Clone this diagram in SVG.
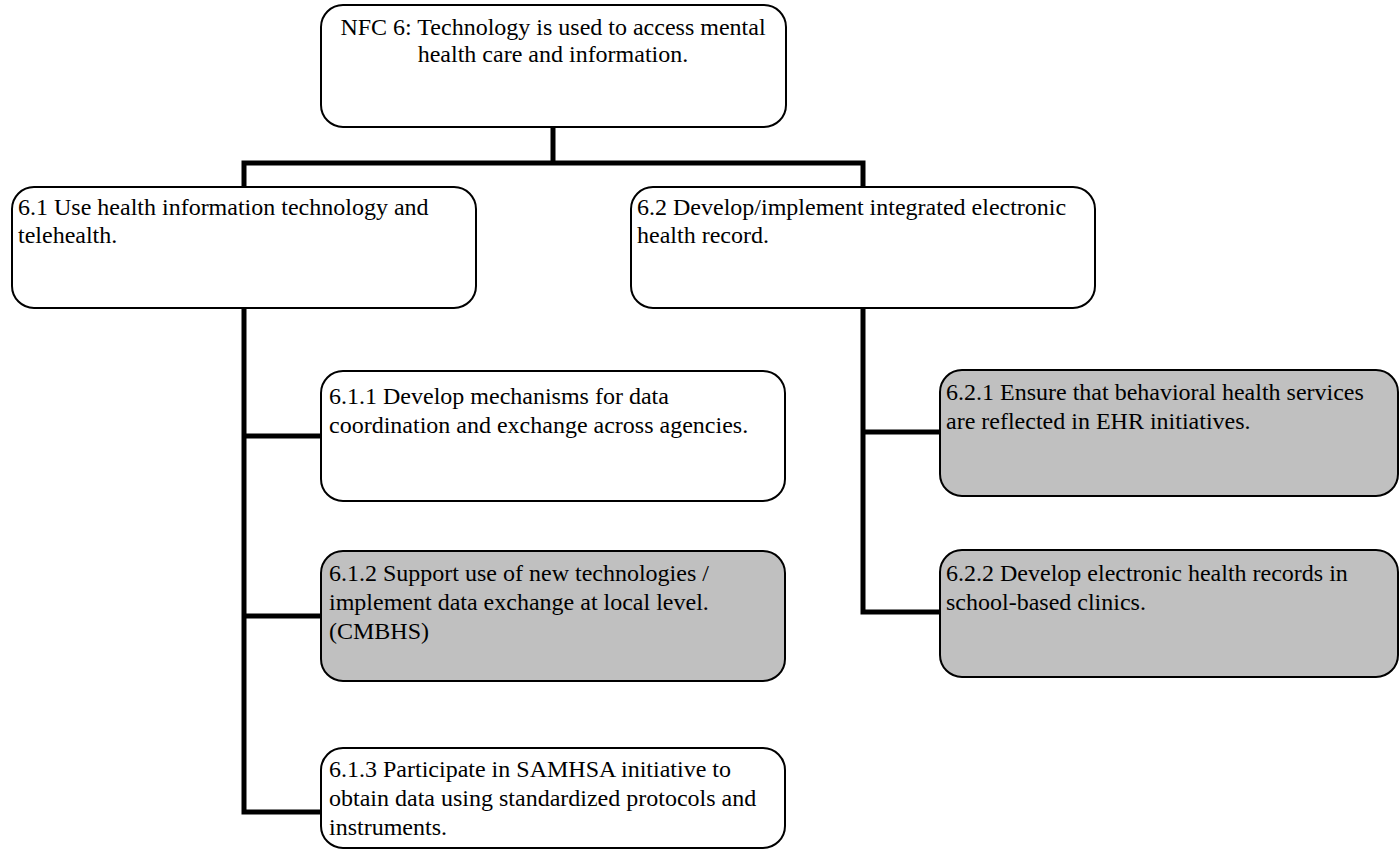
<svg xmlns="http://www.w3.org/2000/svg" width="1400" height="851" viewBox="0 0 1400 851">
<style>
.box{fill:#ffffff;stroke:#000;stroke-width:2}
.gray{fill:#c0c0c0}
.t{font-family:'Liberation Serif','DejaVu Serif',serif;font-size:24px;fill:#000}
.c{fill:none;stroke:#000;stroke-width:5;stroke-linecap:butt;stroke-linejoin:miter}
</style>
<rect width="1400" height="851" fill="#fff"/>
<g id="connectors">
<path class="c" d="M553,127 V163"/>
<path class="c" d="M244,187 V163 H863 V187"/>
<path class="c" d="M244,308 V812 H321"/>
<path class="c" d="M244,436 H321"/>
<path class="c" d="M244,616 H321"/>
<path class="c" d="M863,308 V612 H940"/>
<path class="c" d="M863,432 H940"/>
</g>
<g id="n6">
<rect class="box" x="321" y="5" width="465" height="122" rx="22"/>
<text class="t" text-anchor="middle"><tspan x="553" y="35">NFC 6: Technology is used to access mental</tspan><tspan x="553" y="62">health care and information.</tspan></text>
</g>
<g id="n61">
<rect class="box" x="12" y="187" width="464" height="121" rx="22"/>
<text class="t"><tspan x="18" y="215">6.1 Use health information technology and</tspan><tspan x="18" y="243">telehealth.</tspan></text>
</g>
<g id="n62">
<rect class="box" x="631" y="187" width="464" height="121" rx="22"/>
<text class="t"><tspan x="637" y="215">6.2 Develop/implement integrated electronic</tspan><tspan x="637" y="243">health record.</tspan></text>
</g>
<g id="n611">
<rect class="box" x="321" y="371" width="464" height="130" rx="22"/>
<text class="t"><tspan x="329" y="404">6.1.1 Develop mechanisms for data</tspan><tspan x="329" y="433">coordination and exchange across agencies.</tspan></text>
</g>
<g id="n612">
<rect class="box gray" x="321" y="551" width="464" height="130" rx="22"/>
<text class="t"><tspan x="329" y="581">6.1.2 Support use of new technologies /</tspan><tspan x="329" y="610">implement data exchange at local level.</tspan><tspan x="329" y="639">(CMBHS)</tspan></text>
</g>
<g id="n613">
<rect class="box" x="321" y="748" width="464" height="100" rx="22"/>
<text class="t"><tspan x="329" y="777">6.1.3 Participate in SAMHSA initiative to</tspan><tspan x="329" y="806">obtain data using standardized protocols and</tspan><tspan x="329" y="835">instruments.</tspan></text>
</g>
<g id="n621">
<rect class="box gray" x="940" y="370" width="458" height="126" rx="22"/>
<text class="t"><tspan x="946" y="400">6.2.1 Ensure that behavioral health services</tspan><tspan x="946" y="429">are reflected in EHR initiatives.</tspan></text>
</g>
<g id="n622">
<rect class="box gray" x="940" y="550" width="458" height="127" rx="22"/>
<text class="t"><tspan x="946" y="581">6.2.2 Develop electronic health records in</tspan><tspan x="946" y="610">school-based clinics.</tspan></text>
</g>
</svg>
